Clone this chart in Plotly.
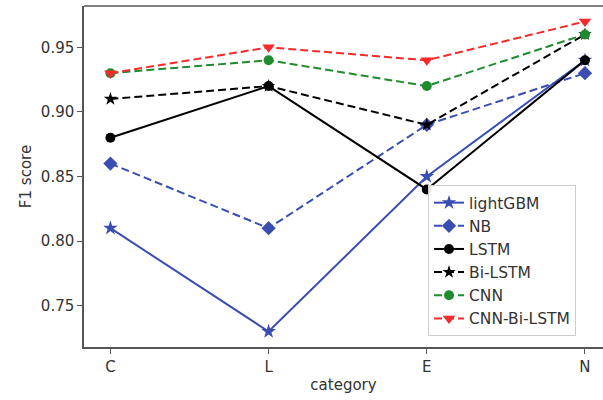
import plotly.graph_objects as go

categories = ["C", "L", "E", "N"]
lightgbm = [0.81, 0.73, 0.85, 0.94]
nb = [0.86, 0.81, 0.89, 0.93]
lstm = [0.88, 0.92, 0.84, 0.94]
bilstm = [0.91, 0.92, 0.89, 0.96]
cnn = [0.93, 0.94, 0.92, 0.96]
cnn_bilstm = [0.93, 0.95, 0.94, 0.97]
yticks = [0.75, 0.80, 0.85, 0.90, 0.95]

BLUE = "#3a4db3"
GREEN = "#1e8c2e"
RED = "#f52a2a"
BLACK = "#000000"

series = [
    ("lightGBM", lightgbm, BLUE, "solid", "star", 11),
    ("NB", nb, BLUE, "dash", "diamond", 11),
    ("LSTM", lstm, BLACK, "solid", "circle", 10),
    ("Bi-LSTM", bilstm, BLACK, "dash", "star", 10),
    ("CNN", cnn, GREEN, "dash", "circle", 10),
    ("CNN-Bi-LSTM", cnn_bilstm, RED, "dash", "triangle-down", 11),
]

fig = go.Figure()
xs = list(range(len(categories)))
for name, vals, col, dash, sym, sz in series:
    fig.add_trace(go.Scatter(
        x=xs, y=vals, name=name, mode="lines+markers",
        line=dict(color=col, width=2, dash=("8px,4px" if dash == "dash" else "solid")),
        marker=dict(symbol=sym, size=sz, color=col, line=dict(width=0)),
    ))

fig.update_layout(
    width=603, height=400,
    margin=dict(l=84, r=0, t=6, b=53, autoexpand=False),
    paper_bgcolor="white", plot_bgcolor="white",
    font=dict(family="DejaVu Sans", size=15, color="#333333"),
    showlegend=True,
    legend=dict(
        x=0.948, xanchor="right", y=0.032, yanchor="bottom",
        bgcolor="rgba(255,255,255,0.9)", bordercolor="#cccccc", borderwidth=1,
        font=dict(family="DejaVu Sans", size=15.5, color="#333333"),
        tracegroupgap=0, itemwidth=30,
    ),
    xaxis=dict(
        range=[-0.167, 3.114], tickmode="array", tickvals=xs, ticktext=categories,
        showline=True, linecolor="#555555", linewidth=1.5, mirror=False, automargin=False,
        ticks="outside", ticklen=5, tickcolor="#555555", showgrid=False, zeroline=False,
        title=dict(text="category", font=dict(size=15, color="#333333"), standoff=5),
    ),
    yaxis=dict(
        range=[0.718, 0.982], tickmode="array", tickvals=yticks,
        ticktext=[f"{v:.2f}" for v in yticks], automargin=False,
        showline=True, linecolor="#555555", linewidth=1.5, mirror=False,
        ticks="outside", ticklen=5, tickcolor="#555555", showgrid=False, zeroline=False,
        title=dict(text="F1 score", font=dict(size=15, color="#333333"), standoff=6),
    ),
    shapes=[dict(type="line", xref="paper", yref="paper", x0=0, x1=1, y0=1, y1=1,
                 line=dict(color="#555555", width=1.5))],
)

fig.write_html("out.html", config={"displayModeBar": False},
               post_script="document.body.style.margin='0px';document.body.style.overflow='hidden';")
